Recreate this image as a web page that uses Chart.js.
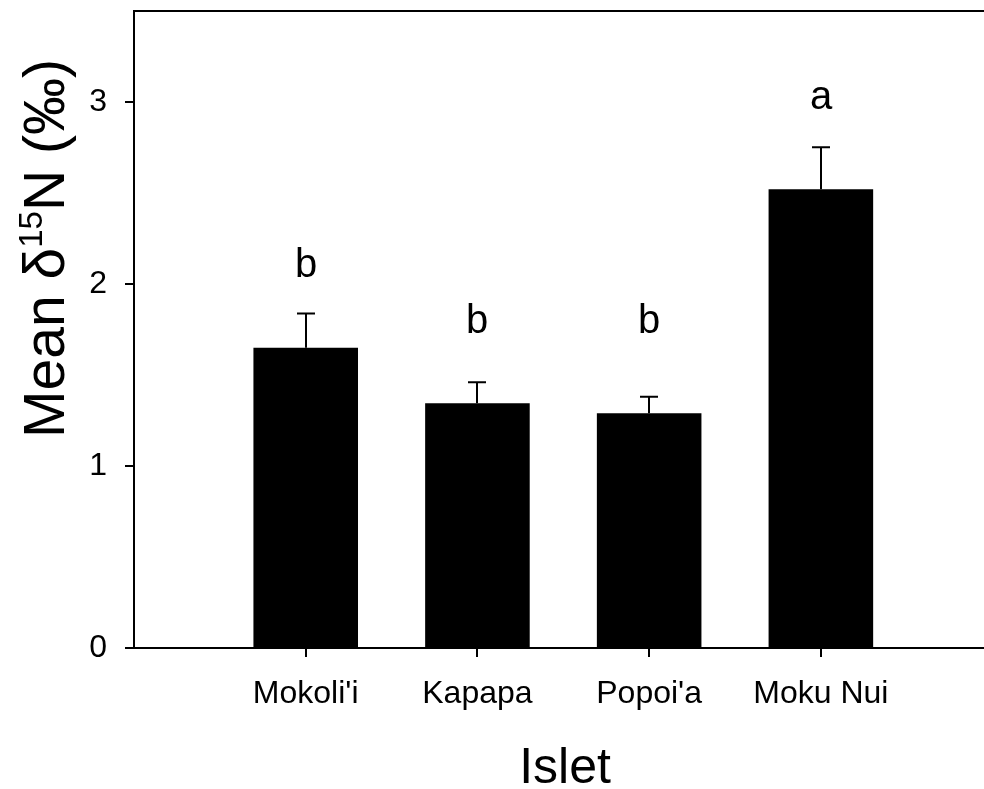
<!DOCTYPE html>
<html><head><meta charset="utf-8">
<script src="https://cdn.jsdelivr.net/npm/chart.js@4"></script>
<style>html,body{margin:0;padding:0;background:#fff}#wrap{width:984px;height:789px}</style>
</head><body><div id="wrap"><canvas id="c" width="984" height="789"></canvas></div>
<script>
const islets = ["Mokoli'i", "Kapapa", "Popoi'a", "Moku Nui"];
const positions = [1, 2, 3, 4];
const meanD15N = [1.65, 1.345, 1.29, 2.52];
const seUpper = [0.188, 0.115, 0.091, 0.231];
const groupLetters = ["b", "b", "b", "a"];
const letterY = [2.04, 1.73, 1.73, 2.96];
const yTicks = [0, 1, 2, 3];
const xTitle = "Islet";
const yTitleParts = ["Mean \u03B4", "15", "N (\u2030)"];

const FONT = '"Liberation Sans", Arial, sans-serif';

const overlay = {
  id: 'overlay',
  afterDatasetsDraw(chart) {
    const {ctx, chartArea: a, scales: {x, y}} = chart;
    ctx.save();
    ctx.strokeStyle = '#000';
    ctx.fillStyle = '#000';
    ctx.lineWidth = 2;
    ctx.beginPath();
    ctx.moveTo(a.left - 1, a.top);
    ctx.lineTo(a.right, a.top);
    ctx.stroke();
    positions.forEach((p, i) => {
      const px = Math.round(x.getPixelForValue(p));
      const y0 = y.getPixelForValue(meanD15N[i]);
      const y1 = y.getPixelForValue(meanD15N[i] + seUpper[i]);
      ctx.beginPath();
      ctx.moveTo(px, y0); ctx.lineTo(px, y1);
      ctx.moveTo(px - 9, y1); ctx.lineTo(px + 9, y1);
      ctx.stroke();
      ctx.font = '40px ' + FONT;
      ctx.textAlign = 'center';
      ctx.textBaseline = 'alphabetic';
      ctx.fillText(groupLetters[i], px, y.getPixelForValue(letterY[i]));
    });
    ctx.font = '50px ' + FONT;
    ctx.textAlign = 'center';
    ctx.fillText(xTitle, 565, 783);
    // y title with superscript
    const big = '57px ' + FONT, small = '33px ' + FONT;
    ctx.font = big; const w1 = ctx.measureText(yTitleParts[0]).width;
    const w3 = ctx.measureText(yTitleParts[2]).width;
    ctx.font = small; const w2 = ctx.measureText(yTitleParts[1]).width;
    const total = w1 + w2 + w3;
    ctx.translate(64, 248.5);
    ctx.rotate(-Math.PI / 2);
    ctx.textAlign = 'left';
    let cx = -total / 2;
    ctx.font = big; ctx.fillText(yTitleParts[0], cx, 0); cx += w1;
    ctx.font = small; ctx.fillText(yTitleParts[1], cx, -22); cx += w2;
    ctx.font = big; ctx.fillText(yTitleParts[2], cx, 0);
    ctx.restore();
  }
};

new Chart(document.getElementById('c'), {
  type: 'bar',
  data: {
    datasets: [{
      data: positions.map((p, i) => ({x: p, y: meanD15N[i]})),
      backgroundColor: '#000',
      borderColor: '#222',
      borderWidth: 0,
      barPercentage: 0.609,
      categoryPercentage: 1
    }]
  },
  options: {
    responsive: false,
    animation: false,
    devicePixelRatio: 1,
    layout: {padding: {top: 11, left: 0, right: 0, bottom: 0}},
    plugins: {legend: {display: false}, tooltip: {enabled: false}},
    scales: {
      x: {
        type: 'linear', position: 'bottom', min: 0, max: 4.95, offset: false,
        afterFit: s => { s.height = 141; s.paddingLeft = 0; s.paddingRight = 0; },
        afterBuildTicks: s => { s.ticks = positions.map(v => ({value: v})); },
        ticks: {
          callback: v => islets[positions.indexOf(v)] || '',
          font: {family: FONT, size: 32}, color: '#000', padding: 18,
          maxRotation: 0, autoSkip: false
        },
        grid: {offset: false, drawOnChartArea: false, drawTicks: true, tickLength: 9, color: '#000', lineWidth: 2},
        border: {display: true, color: '#000', width: 2}
      },
      y: {
        type: 'linear', min: 0, max: 3.5,
        afterFit: s => { s.width = 134; s.paddingTop = 0; s.paddingBottom = 0; },
        afterBuildTicks: s => { s.ticks = yTicks.map(v => ({value: v})); },
        ticks: {font: {family: FONT, size: 32}, color: '#000', padding: 18},
        grid: {drawOnChartArea: false, drawTicks: true, tickLength: 9, color: '#000', lineWidth: 2},
        border: {display: true, color: '#000', width: 2}
      }
    }
  },
  plugins: [overlay]
});
</script>
</body></html>
